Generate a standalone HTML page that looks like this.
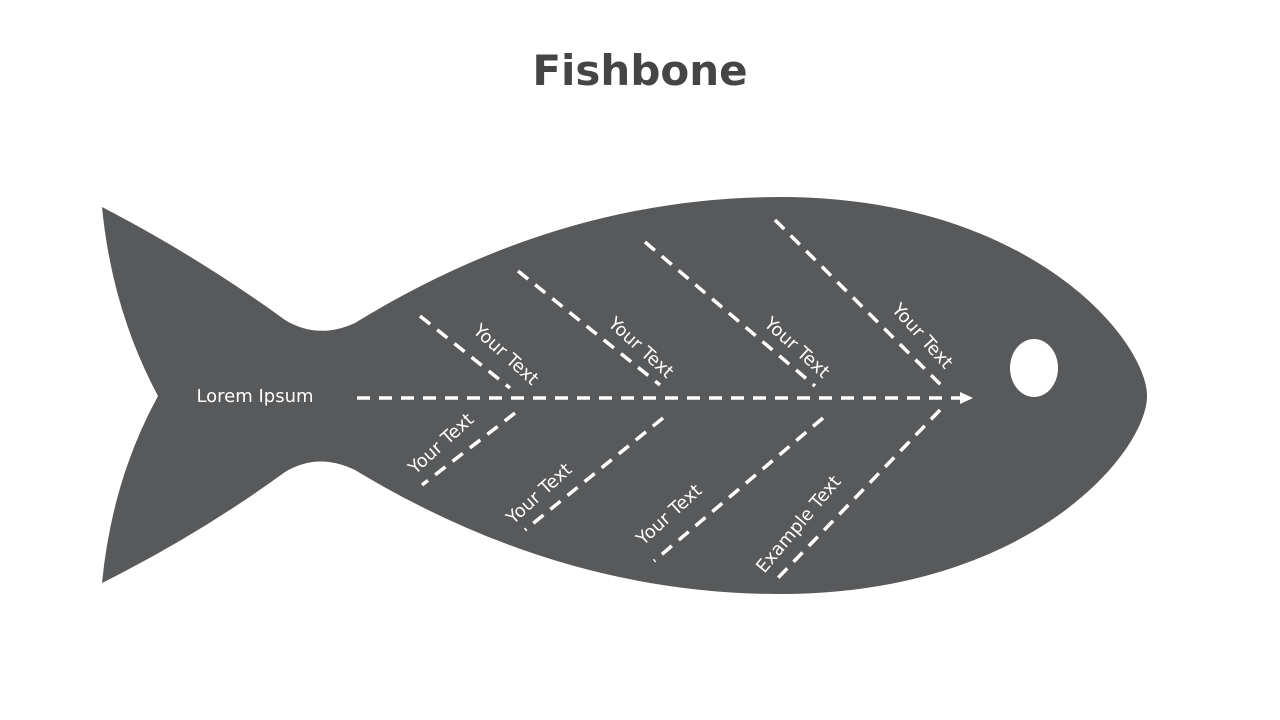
<!DOCTYPE html>
<html><head><meta charset="utf-8"><style>
html,body{margin:0;padding:0;background:#fff;}
svg{display:block}
</style></head><body>
<svg width="1280" height="720" viewBox="0 0 1280 720" xmlns="http://www.w3.org/2000/svg">
<text x="640" y="85" text-anchor="middle" font-family="'DejaVu Sans','Liberation Sans',sans-serif" font-weight="bold" font-size="42" fill="#454545">Fishbone</text>
<path d="M102,207 Q200,258 285,320 Q318,340 355,323 Q560,197 780,197 C1030,197 1147,340 1147,396 C1147,452 1030,594 780,594 Q560,594 355,470 Q318,452 285,472 Q200,534 102,583 Q112,480 158,396 Q112,310 102,207 Z" fill="#58595b"/>
<ellipse cx="1034" cy="368" rx="24" ry="29" fill="#fff"/>
<g stroke="#fff" stroke-width="3.5" stroke-dasharray="13,9" fill="none">
<line x1="357" y1="398" x2="962" y2="398"/>
<line x1="420" y1="316" x2="510" y2="388"/>
<line x1="518" y1="271" x2="660" y2="385"/>
<line x1="645" y1="242" x2="815" y2="386"/>
<line x1="775" y1="220" x2="942" y2="386"/>
<line x1="515" y1="413" x2="422" y2="485"/>
<line x1="663" y1="418" x2="525" y2="530"/>
<line x1="823" y1="418" x2="654" y2="561"/>
<line x1="940" y1="410" x2="776" y2="580"/>
</g>
<polygon points="960,392 973,398 960,404" fill="#fff"/>
<g font-family="'DejaVu Sans','Liberation Sans',sans-serif" font-size="18" fill="#fff" text-anchor="middle">
<text x="255" y="402" font-size="18">Lorem Ipsum</text>
<text transform="translate(502,359) rotate(42)">Your Text</text>
<text transform="translate(637,352) rotate(42)">Your Text</text>
<text transform="translate(793,352) rotate(42)">Your Text</text>
<text transform="translate(918,340) rotate(48)">Your Text</text>
<text transform="translate(445,448) rotate(-42)">Your Text</text>
<text transform="translate(543,498) rotate(-42)">Your Text</text>
<text transform="translate(673,519) rotate(-42)">Your Text</text>
<text transform="translate(803,528) rotate(-50)">Example Text</text>
</g>
</svg>
</body></html>
